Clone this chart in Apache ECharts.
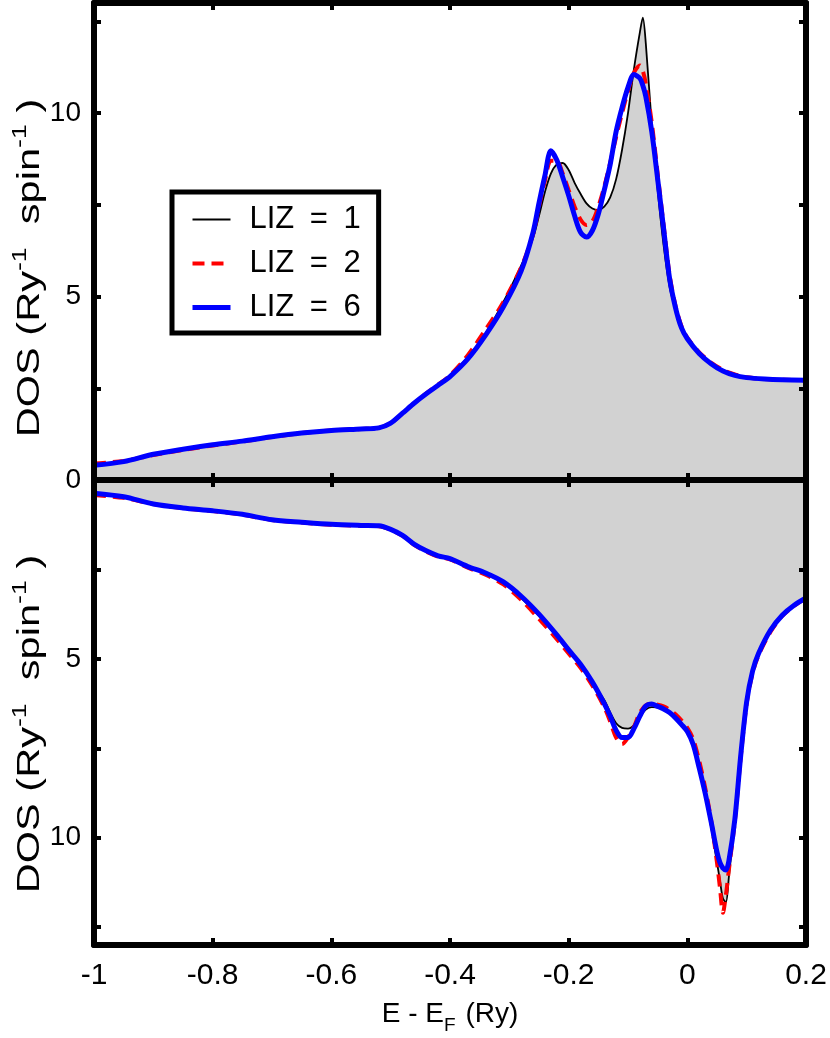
<!DOCTYPE html>
<html>
<head>
<meta charset="utf-8">
<script src="https://cdn.jsdelivr.net/npm/echarts@6/dist/echarts.min.js"></script>
<style>
  html, body { margin: 0; padding: 0; background: #fff; }
  #dosChart { width: 830px; height: 1038px; }
</style>
</head>
<body>
<div id="dosChart"></div>
<script>
// energy grid, spin up panel (Ry)
var eUp = [-1.0, -0.95, -0.9, -0.85, -0.8, -0.75, -0.7, -0.65, -0.6, -0.55, -0.52, -0.5, -0.48, -0.46, -0.44, -0.42, -0.4,
  -0.37, -0.34, -0.31, -0.28, -0.26, -0.25, -0.24, -0.23, -0.22, -0.21, -0.2, -0.19, -0.18, -0.17, -0.16, -0.15, -0.14,
  -0.13, -0.12, -0.11, -0.1, -0.09, -0.08, -0.075, -0.07, -0.06, -0.05, -0.04, -0.03, -0.02, -0.01, 0, 0.02, 0.04, 0.06,
  0.08, 0.1, 0.13, 0.16, 0.2];
var upLiz1 = [0.38, 0.49, 0.69, 0.83, 0.95, 1.05, 1.17, 1.27, 1.34, 1.38, 1.41, 1.55, 1.82, 2.1, 2.36, 2.6, 2.85,
  3.35, 4.0, 4.85, 5.85, 6.6, 7.2, 7.85, 8.35, 8.6, 8.64, 8.45, 8.1, 7.8, 7.54, 7.4, 7.36, 7.45,
  7.7, 8.2, 9.0, 10.0, 11.2, 12.2, 12.6, 11.9, 9.7, 7.9, 6.4, 5.27, 4.65, 4.2, 3.85, 3.45, 3.15, 2.96,
  2.85, 2.79, 2.75, 2.73, 2.72];
var upLiz2 = [0.45, 0.52, 0.68, 0.82, 0.94, 1.05, 1.17, 1.28, 1.35, 1.39, 1.42, 1.55, 1.82, 2.1, 2.36, 2.6, 2.85,
  3.4, 4.1, 4.85, 5.8, 6.7, 7.45, 8.15, 8.7, 8.7, 8.35, 7.9, 7.45, 7.1, 6.95, 7.05, 7.45, 8.0,
  8.65, 9.35, 10.0, 10.6, 11.1, 11.3, 11.15, 10.8, 9.75, 8.35, 6.95, 5.6, 4.75, 4.2, 3.88, 3.48, 3.2, 3.0,
  2.88, 2.8, 2.75, 2.73, 2.72];
var upLiz6 = [0.40, 0.50, 0.70, 0.84, 0.96, 1.06, 1.18, 1.28, 1.35, 1.39, 1.42, 1.55, 1.82, 2.1, 2.35, 2.58, 2.82,
  3.3, 3.95, 4.72, 5.7, 6.75, 7.55, 8.3, 8.97, 8.72, 8.25, 7.75, 7.2, 6.75, 6.62, 6.8, 7.25, 7.9,
  8.6, 9.5, 10.15, 10.7, 11.05, 10.95, 10.75, 10.45, 9.5, 8.2, 6.85, 5.5, 4.7, 4.15, 3.85, 3.45, 3.17, 2.97,
  2.85, 2.79, 2.75, 2.73, 2.72];

// energy grid, spin down panel (plotted downwards)
var eDn = [-1.0, -0.95, -0.9, -0.85, -0.8, -0.75, -0.7, -0.65, -0.6, -0.55, -0.52, -0.5, -0.48, -0.46, -0.44, -0.42, -0.4,
  -0.37, -0.34, -0.31, -0.28, -0.25, -0.22, -0.2, -0.18, -0.16, -0.14, -0.13, -0.12, -0.11, -0.1, -0.09, -0.08, -0.07,
  -0.06, -0.05, -0.04, -0.03, -0.02, -0.01, 0, 0.01, 0.02, 0.03, 0.04, 0.05, 0.055, 0.06, 0.065, 0.07, 0.08, 0.09,
  0.1, 0.11, 0.12, 0.14, 0.16, 0.18, 0.2];
var dnLiz1 = [0.36, 0.46, 0.66, 0.78, 0.86, 0.96, 1.11, 1.18, 1.24, 1.27, 1.28, 1.38, 1.55, 1.8, 1.98, 2.12, 2.2,
  2.42, 2.62, 2.88, 3.3, 3.8, 4.38, 4.8, 5.18, 5.68, 6.15, 6.5, 6.8, 6.93, 6.95, 6.85, 6.62, 6.42,
  6.35, 6.36, 6.42, 6.52, 6.66, 6.83, 7.03, 7.4, 8.05, 8.8, 9.7, 10.7, 11.2, 11.7, 11.8, 11.1, 9.5, 7.6,
  6.1, 5.3, 4.82, 4.2, 3.78, 3.5, 3.3];
var dnLiz2 = [0.42, 0.5, 0.67, 0.79, 0.87, 0.97, 1.12, 1.19, 1.25, 1.28, 1.29, 1.39, 1.56, 1.82, 2.0, 2.14, 2.22,
  2.45, 2.65, 2.92, 3.35, 3.88, 4.45, 4.85, 5.25, 5.75, 6.35, 6.75, 7.2, 7.38, 7.2, 6.9, 6.5, 6.3,
  6.26, 6.28, 6.33, 6.42, 6.55, 6.72, 6.93, 7.25, 7.85, 8.6, 9.5, 10.7, 11.4, 12.1, 11.6, 10.9, 9.55, 7.75,
  6.25, 5.4, 4.9, 4.25, 3.8, 3.52, 3.3];
var dnLiz6 = [0.37, 0.47, 0.67, 0.78, 0.86, 0.96, 1.11, 1.18, 1.24, 1.27, 1.28, 1.38, 1.55, 1.8, 1.98, 2.12, 2.2,
  2.42, 2.6, 2.85, 3.25, 3.75, 4.33, 4.75, 5.15, 5.65, 6.25, 6.6, 7.0, 7.2, 7.2, 6.95, 6.6, 6.32,
  6.26, 6.33, 6.4, 6.5, 6.65, 6.83, 7.03, 7.4, 8.05, 8.75, 9.55, 10.4, 10.7, 10.85, 10.9, 10.65, 9.5, 7.7,
  6.2, 5.34, 4.85, 4.2, 3.78, 3.5, 3.3];

var seriesNames = ['LIZ = 1', 'LIZ = 2', 'LIZ = 6'];
var yTickLabels = [0, 5, 10];

var FONT = 'Liberation Sans, Arial, sans-serif';

function pairs(xs, ys) {
  return xs.map(function (x, i) { return [x, ys[i]]; });
}

var frameLine = { show: true, onZero: false, lineStyle: { color: '#000', width: 6 } };
var tickIn = { show: true, inside: true, length: 7, lineStyle: { color: '#000', width: 4 } };

function xAx(grid, pos, showLabel) {
  return {
    type: 'value', gridIndex: grid, position: pos, min: -1, max: 0.2, interval: 0.2, z: 10,
    axisLine: frameLine, axisTick: tickIn, splitLine: { show: false },
    axisLabel: {
      show: showLabel, color: '#000', fontSize: 30, fontFamily: FONT, margin: 16,
      formatter: function (v) { return String(+v.toFixed(1)); }
    }
  };
}

function yAx(grid, pos, inverse, showLabel, showZero) {
  return {
    type: 'value', gridIndex: grid, position: pos, min: 0, max: 13, interval: 2.5, inverse: inverse, z: 10,
    axisLine: frameLine, axisTick: tickIn, splitLine: { show: false },
    axisLabel: {
      show: showLabel, color: '#000', fontSize: 28, fontFamily: FONT, margin: 13,
      formatter: function (v) {
        if (v === 0 && !showZero) return '';
        return yTickLabels.indexOf(v) >= 0 ? String(v) : '';
      }
    }
  };
}

// rotated y titles, stretched along the text like in the original
var titleRich = {
  n: { fontSize: 31, fontFamily: FONT, fill: '#000', lineHeight: 40 },
  s: { fontSize: 20, fontFamily: FONT, fill: '#000', lineHeight: 20, verticalAlign: 'top' }
};
function yTitle(cy) {
  return {
    type: 'text', x: 30, y: cy, rotation: Math.PI / 2, scaleX: 1.34, z: 30,
    style: {
      text: '{n|DOS (Ry}{s|-1}{n|  spin}{s|-1}{n| )}', rich: titleRich,
      align: 'center', verticalAlign: 'middle'
    }
  };
}

function lineSeries(name, xi, yi, data, style, area) {
  var s = {
    name: name, type: 'line', xAxisIndex: xi, yAxisIndex: yi, data: data,
    symbol: 'none', showSymbol: false, smooth: 0.3, lineStyle: style,
    itemStyle: { color: style.color }
  };
  if (area) s.areaStyle = { color: '#d2d2d2', opacity: 1 };
  return s;
}

var sBlack = { color: '#000', width: 1.8 };
var sRed = { color: '#ff0000', width: 4, type: [12, 7] };
var sBlue = { color: '#0000ff', width: 5 };

var chart = echarts.init(document.getElementById('dosChart'));
chart.setOption({
  animation: false,
  backgroundColor: '#fff',
  textStyle: { fontFamily: FONT },
  grid: [
    { left: 94, right: 24, top: 3, height: 477, outerBoundsMode: 'none' },
    { left: 94, right: 24, top: 480, height: 465, outerBoundsMode: 'none' }
  ],
  xAxis: [
    xAx(0, 'bottom', false),
    xAx(0, 'top', false),
    Object.assign(xAx(1, 'bottom', true), {
      name: '{n|E - E}{b|F}{n| (Ry)}',
      nameLocation: 'middle',
      nameGap: 54,
      nameTextStyle: {
        rich: {
          n: { fontSize: 28, fontFamily: FONT, color: '#000', lineHeight: 30 },
          b: { fontSize: 19, fontFamily: FONT, color: '#000', lineHeight: 19, verticalAlign: 'bottom', padding: [0, 2, -6, 0] }
        }
      }
    }),
    xAx(1, 'top', false)
  ],
  yAxis: [
    yAx(0, 'left', false, true, true),
    yAx(0, 'right', false, false, false),
    yAx(1, 'left', true, true, false),
    yAx(1, 'right', true, false, false)
  ],
  graphic: [yTitle(268), yTitle(724)],
  legend: {
    data: seriesNames,
    orient: 'vertical',
    left: 172, top: 192,
    z: 20,
    backgroundColor: '#fff',
    borderColor: '#000', borderWidth: 5, borderRadius: 0,
    padding: [12, 18, 10, 18],
    itemWidth: 38, itemHeight: 30, itemGap: 13,
    itemStyle: { opacity: 0, borderWidth: 0 },
    lineStyle: { width: 'inherit' },
    formatter: function (name) { return name.replace(/ /g, '\u2002'); },
    textStyle: { fontSize: 31, fontFamily: FONT, color: '#000', padding: [0, 0, 0, 14] }
  },
  series: [
    lineSeries(seriesNames[0], 0, 0, pairs(eUp, upLiz1), sBlack, true),
    lineSeries(seriesNames[1], 0, 0, pairs(eUp, upLiz2), sRed, false),
    lineSeries(seriesNames[2], 0, 0, pairs(eUp, upLiz6), sBlue, false),
    lineSeries(seriesNames[0], 2, 2, pairs(eDn, dnLiz1), sBlack, true),
    lineSeries(seriesNames[1], 2, 2, pairs(eDn, dnLiz2), sRed, false),
    lineSeries(seriesNames[2], 2, 2, pairs(eDn, dnLiz6), sBlue, false)
  ]
});
</script>
</body>
</html>
